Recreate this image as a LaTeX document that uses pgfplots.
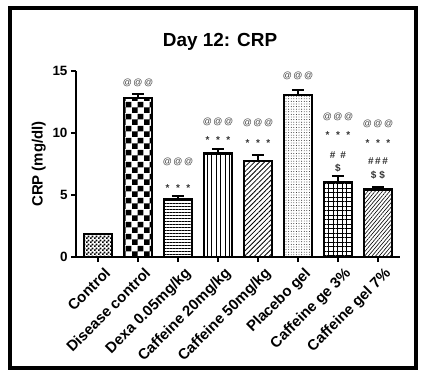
\documentclass[border=0pt]{standalone}
\usepackage{fontspec}
\setmainfont{Liberation Sans}
\usepackage{pgfplots}
\pgfplotsset{compat=1.18}
\usetikzlibrary{patterns,patterns.meta}

\pgfdeclarepatternformonly{bigchecker}{\pgfpointorigin}{\pgfpoint{12bp}{12bp}}{\pgfpoint{12bp}{12bp}}{%
 \pgfpathrectangle{\pgfpointorigin}{\pgfpoint{6bp}{6bp}}%
 \pgfpathrectangle{\pgfpoint{6bp}{6bp}}{\pgfpoint{6bp}{6bp}}%
 \pgfusepath{fill}}
\pgfdeclarepatternformonly{smallchecker}{\pgfpointorigin}{\pgfpoint{3.6bp}{3.6bp}}{\pgfpoint{3.6bp}{3.6bp}}{%
 \pgfpathrectangle{\pgfpointorigin}{\pgfpoint{1.8bp}{1.8bp}}%
 \pgfpathrectangle{\pgfpoint{1.8bp}{1.8bp}}{\pgfpoint{1.8bp}{1.8bp}}%
 \pgfusepath{fill}}

\pgfplotsset{
  barbase/.style={draw=black, line width=2.2bp, bar shift=0pt,
    error bars/y dir=plus, error bars/y explicit,
    error bars/error bar style={line width=2bp, black},
    error bars/error mark options={rotate=90, mark size=6bp, line width=2bp, black}},
}

\begin{document}
\begin{tikzpicture}
\path[use as bounding box] (0,0) rectangle (426bp,377bp);
\draw[line width=3.5bp] (10bp,9bp) rectangle (416bp,369bp);
\node[font=\bfseries\fontsize{19}{19}\selectfont] at (220bp,335bp) {Day 12: CRP};
\begin{axis}[
  at={(76bp,120bp)}, anchor=south west, scale only axis,
  width=324bp, height=186bp,
  xmin=-0.55, xmax=7.55, ymin=0, ymax=15,
  ybar, bar width=28bp,
  axis lines=left,
  axis line style={-, line width=1.5bp, black},
  tick style={line width=1.5bp, black},
  major tick length=5bp,
  tick align=outside,
  ytick={0,5,10,15},
  xtick={0,...,7},
  xticklabels={Control, Disease control, Dexa 0.05mg/kg, Caffeine 20mg/kg, Caffeine 50mg/kg, Placebo gel, Caffeine ge 3\%, Caffeine gel 7\%},
  x tick label style={rotate=45, anchor=north east, font=\bfseries\fontsize{15}{15}\selectfont, inner sep=2bp, xshift=3bp, yshift=-5bp},
  y tick label style={font=\bfseries\fontsize{13.5}{13.5}\selectfont},
  /pgf/number format/assume math mode=true,
  ylabel={CRP (mg/dl)},
  ylabel style={font=\bfseries\fontsize{15}{15}\selectfont},
  clip=false,
]
\addplot[barbase, pattern=smallchecker] coordinates {(0,1.83) +- (0,0.05)};
\addplot[barbase, pattern=bigchecker] coordinates {(1,12.85) +- (0,0.33)};
\addplot[barbase, pattern={Lines[angle=0,distance=3bp,line width=0.6bp]}] coordinates {(2,4.63) +- (0,0.29)};
\addplot[barbase, pattern={Lines[angle=90,distance=4.5bp,line width=0.7bp]}] coordinates {(3,8.34) +- (0,0.35)};
\addplot[barbase, pattern={Lines[angle=45,distance=3.5bp,line width=0.8bp]}] coordinates {(4,7.74) +- (0,0.49)};
\addplot[barbase, pattern={Dots[distance=2.6bp,radius=0.45bp]}] coordinates {(5,13.04) +- (0,0.40)};
\addplot[barbase, pattern={Hatch[angle=0,distance=4.5bp,line width=0.6bp]}] coordinates {(6,6.05) +- (0,0.46)};
\addplot[barbase, pattern={Lines[angle=50,distance=2.8bp,line width=0.6bp]}] coordinates {(7,5.44) +- (0,0.21)};

\tikzset{ann/.style={font=\fontsize{9}{9}\selectfont, text=black!75, inner sep=0pt},
         st/.style={font=\bfseries\fontsize{10}{10}\selectfont, text=black!80, inner sep=0pt}}
% @@@
\node[ann] at (axis cs:1,14.06) {@\,@\,@};
\node[ann] at (axis cs:2,7.7) {@\,@\,@};
\node[ann] at (axis cs:3,10.9) {@\,@\,@};
\node[ann] at (axis cs:4,10.8) {@\,@\,@};
\node[ann] at (axis cs:5,14.6) {@\,@\,@};
\node[ann] at (axis cs:6,11.3) {@\,@\,@};
\node[ann] at (axis cs:7,10.7) {@\,@\,@};
% stars
\node[st] at (axis cs:2,5.55) {*\hspace{6.5bp}*\hspace{6.5bp}*};
\node[st] at (axis cs:3,9.4) {*\hspace{6.5bp}*\hspace{6.5bp}*};
\node[st] at (axis cs:4,9.2) {*\hspace{6.5bp}*\hspace{6.5bp}*};
\node[st] at (axis cs:6,9.8) {*\hspace{6.5bp}*\hspace{6.5bp}*};
\node[st] at (axis cs:7,9.2) {*\hspace{6.5bp}*\hspace{6.5bp}*};
% hashes and dollars
\node[st] at (axis cs:6,8.2) {\#\hspace{5bp}\#};
\node[st] at (axis cs:6,7.2) {\$};
\node[st] at (axis cs:7,7.7) {\#\hspace{1.5bp}\#\hspace{1.5bp}\#};
\node[st] at (axis cs:7,6.6) {\$\hspace{3bp}\$};
\end{axis}
\end{tikzpicture}
\end{document}
